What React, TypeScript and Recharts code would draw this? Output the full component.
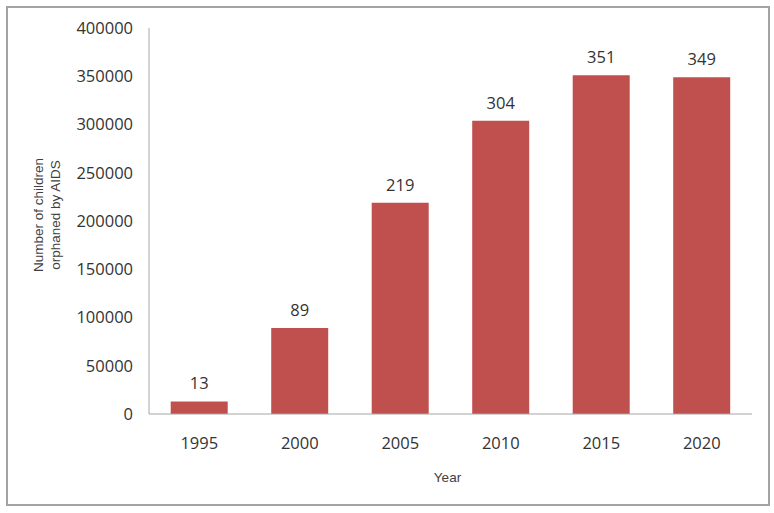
import React from 'react';
import { BarChart, Bar, XAxis, YAxis, LabelList } from 'recharts';

const years = ['1995', '2000', '2005', '2010', '2015', '2020'];
const orphans = [13000, 89000, 219000, 304000, 351000, 349000];
const barLabels = ['13', '89', '219', '304', '351', '349'];
const yTicks = [0, 50000, 100000, 150000, 200000, 250000, 300000, 350000, 400000];
const yTitleLines = ['Number of children', 'orphaned by AIDS'];
const xTitle = 'Year';

const data = years.map((y, i) => ({ year: y, value: orphans[i], label: barLabels[i] }));

const tickFont = { fontFamily: 'Open Sans', fontSize: 16.5, fill: '#333333' };
const titleFont = { fontFamily: 'Liberation Sans', fontSize: 13.5, fill: '#404040' };

const YTitle = (props: any) => {
  const vb = props.viewBox || {};
  const cx = 38.5;
  const cy = vb.y + vb.height / 2 - 6;
  return (
    <text transform={`translate(${cx},${cy}) rotate(-90)`} textAnchor="middle" style={titleFont as any} fill="#404040">
      <tspan x={0} y={-3.8}>{yTitleLines[0]}</tspan>
      <tspan x={0} y={13.2}>{yTitleLines[1]}</tspan>
    </text>
  );
};

const XTitle = (props: any) => {
  const vb = props.viewBox || {};
  const cx = vb.x + vb.width / 2 - 3;
  const cy = vb.y + 68;
  return (
    <text x={cx} y={cy} textAnchor="middle" style={titleFont as any} fill="#404040">
      {xTitle}
    </text>
  );
};

export default function App() {
  return (
    <div
      style={{
        position: 'absolute',
        left: 6,
        top: 6,
        width: 764,
        height: 500,
        border: '2px solid #a3a3a3',
        boxSizing: 'border-box',
        background: '#ffffff',
      }}
    >
      <BarChart
        width={760}
        height={496}
        data={data}
        margin={{ top: 20, right: 16, bottom: 0, left: 0 }}
        barCategoryGap="21.6%"
      >
        <XAxis
          dataKey="year"
          height={90}
          tickLine={false}
          tickSize={0}
          tickMargin={23}
          axisLine={{ stroke: '#a6a6a6' }}
          tick={tickFont}
          label={{ content: XTitle } as any}
        />
        <YAxis
          width={141}
          domain={[0, 400000]}
          ticks={yTicks}
          interval={0}
          tickLine={false}
          tickSize={0}
          tickMargin={16}
          axisLine={{ stroke: '#a6a6a6' }}
          tick={tickFont}
          label={{ content: YTitle } as any}
        />
        <Bar dataKey="value" fill="#C0504D" isAnimationActive={false}>
          <LabelList dataKey="label" position="top" offset={12} style={tickFont as any} fill="#333333" />
        </Bar>
      </BarChart>
    </div>
  );
}
